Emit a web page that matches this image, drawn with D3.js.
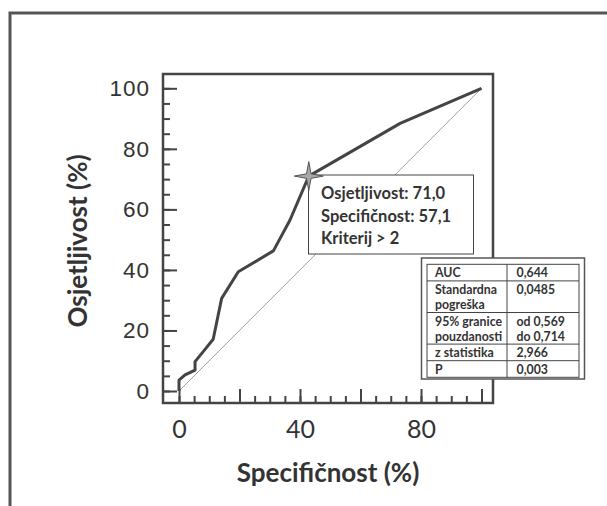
<!DOCTYPE html>
<html>
<head>
<meta charset="utf-8">
<script src="https://cdn.jsdelivr.net/npm/d3@7/dist/d3.min.js"></script>
<style>
  html, body { margin: 0; padding: 0; background: #fff; }
  svg { display: block; }
</style>
</head>
<body>
<svg id="chart" width="607" height="506"></svg>
<script>
// ROC curve: x = 100 - specifičnost, y = osjetljivost (both in %)
const rocX = [0, 0, 2, 5.3, 5.3, 8, 11.3, 14.1, 19.6, 31.2, 36.7, 42.9, 73.1, 100];
const rocY = [0, 3.6, 5.3, 6.9, 9.7, 13, 17.1, 30.6, 39.4, 46.3, 56.5, 71.0, 88.4, 100];

// Optimal cut-off point
const cutSens = 71.0;
const cutSpec = 57.1;
const cutCriterion = "> 2";

// Tick values
const majorTicks = [0, 20, 40, 60, 80, 100];
const minorTicks = d3.range(0, 101, 5);
const xTickLabels = [0, 40, 80];
const yTickLabels = [0, 20, 40, 60, 80, 100];

// Summary statistics table
const statLabels = [["AUC"], ["Standardna", "pogreška"], ["95% granice", "pouzdanosti"], ["z statistika"], ["P"]];
const statValues = [["0,644"], ["0,0485"], ["od 0,569", "do 0,714"], ["2,966"], ["0,003"]];

const svg = d3.select("#chart");
const dark = "#444";
const titleFont = "Lato, 'Open Sans', sans-serif";

// outer frame (runs off the right and bottom of the page)
svg.append("rect")
  .attr("x", 10).attr("y", 13).attr("width", 700).attr("height", 600)
  .attr("fill", "none").attr("stroke", "#555").attr("stroke-width", 3);

const frame = { left: 163, top: 74, right: 493, bottom: 403 };
const x = d3.scaleLinear().domain([0, 100]).range([179, 481.5]);
const y = d3.scaleLinear().domain([0, 100]).range([391, 88.3]);

// chance diagonal
svg.append("line")
  .attr("x1", x(0)).attr("y1", y(0)).attr("x2", x(100)).attr("y2", y(100))
  .attr("stroke", "#a0a0a0").attr("stroke-width", 1);

// ROC curve
const pts = rocX.map((v, i) => [v, rocY[i]]);
svg.append("path")
  .attr("d", d3.line().x(d => x(d[0])).y(d => y(d[1]))(pts))
  .attr("fill", "none").attr("stroke", dark).attr("stroke-width", 3)
  .attr("stroke-linejoin", "round");

// plot frame
svg.append("rect")
  .attr("x", frame.left).attr("y", frame.top)
  .attr("width", frame.right - frame.left).attr("height", frame.bottom - frame.top)
  .attr("fill", "none").attr("stroke", dark).attr("stroke-width", 2.5);

// x axis: inward ticks
const xMinor = svg.append("g").attr("transform", `translate(0,${frame.bottom})`)
  .call(d3.axisBottom(x).tickValues(minorTicks).tickSize(-7).tickFormat(""));
const xMajor = svg.append("g").attr("transform", `translate(0,${frame.bottom})`)
  .call(d3.axisBottom(x).tickValues(majorTicks).tickSize(-14)
    .tickFormat(d => xTickLabels.includes(d) ? d : ""));
[xMinor, xMajor].forEach(g => {
  g.select(".domain").remove();
  g.selectAll(".tick line").attr("stroke", dark).attr("stroke-width", 2);
});
xMajor.selectAll(".tick text")
  .attr("y", 35).attr("dy", null)
  .attr("font-family", titleFont).attr("font-size", 25).attr("fill", "#333");

// y axis: inward ticks
const yMinor = svg.append("g").attr("transform", `translate(${frame.left},0)`)
  .call(d3.axisLeft(y).tickValues(minorTicks).tickSize(-7).tickFormat(""));
const yMajor = svg.append("g").attr("transform", `translate(${frame.left},0)`)
  .call(d3.axisLeft(y).tickValues(majorTicks).tickSize(-14).tickPadding(13)
    .tickFormat(d => yTickLabels.includes(d) ? d : ""));
[yMinor, yMajor].forEach(g => {
  g.select(".domain").remove();
  g.selectAll(".tick line").attr("stroke", dark).attr("stroke-width", 2);
});
yMajor.selectAll(".tick text")
  .attr("font-family", "'Liberation Sans', Arial, sans-serif").attr("font-size", 22.5)
  .attr("letter-spacing", 1).attr("fill", "#333");

// axis titles
svg.append("text")
  .attr("x", 328).attr("y", 482).attr("text-anchor", "middle")
  .attr("font-family", titleFont).attr("font-weight", "bold").attr("font-size", 26).attr("fill", "#333")
  .text("Specifičnost (%)");
svg.append("text")
  .attr("transform", "translate(87,241) rotate(-90)").attr("text-anchor", "middle")
  .attr("font-family", titleFont).attr("font-weight", "bold").attr("font-size", 26).attr("fill", "#333")
  .text("Osjetljivost (%)");

// cut-off annotation box
const ann = svg.append("g");
ann.append("rect")
  .attr("x", 308.5).attr("y", 175).attr("width", 165).attr("height", 79)
  .attr("fill", "#fff").attr("stroke", dark).attr("stroke-width", 1);
const annLines = [
  `Osjetljivost: ${d3.format(".1f")(cutSens).replace(".", ",")}`,
  `Specifičnost: ${d3.format(".1f")(cutSpec).replace(".", ",")}`,
  `Kriterij ${cutCriterion}`
];
ann.selectAll("text").data(annLines).join("text")
  .attr("x", 321).attr("y", (d, i) => 199 + i * 22.5)
  .attr("font-family", titleFont).attr("font-weight", "bold").attr("font-size", 16.5).attr("fill", "#333")
  .text(d => d);

// four-pointed star at the cut-off point
const starPts = [];
for (let k = 0; k < 8; k++) {
  const a = -Math.PI / 2 + k * Math.PI / 4;
  const r = k % 2 === 0 ? 14.5 : 3.2;
  starPts.push([Math.cos(a) * r, Math.sin(a) * r]);
}
svg.append("path")
  .attr("transform", `translate(${x(100 - cutSpec)},${y(cutSens)})`)
  .attr("d", d3.line()(starPts) + "Z")
  .attr("fill", "#a8a8a8").attr("stroke", "#555").attr("stroke-width", 1);

// statistics table
const tbl = svg.append("g");
tbl.append("rect")
  .attr("x", 421.5).attr("y", 258).attr("width", 163).attr("height", 121)
  .attr("fill", "#fff").attr("stroke", "#555").attr("stroke-width", 1.5);
const tLeft = 427, tRight = 579, tMid = 507, tTop = 264.3, lineH = 15;
let rowTops = [tTop];
statLabels.forEach((lab, i) => {
  const n = Math.max(lab.length, statValues[i].length);
  rowTops.push(rowTops[i] + n * lineH + 1.6);
});
const tBottom = rowTops[rowTops.length - 1];
tbl.append("rect")
  .attr("x", tLeft).attr("y", tTop).attr("width", tRight - tLeft).attr("height", tBottom - tTop)
  .attr("fill", "none").attr("stroke", dark).attr("stroke-width", 1);
tbl.append("line").attr("x1", tMid).attr("x2", tMid).attr("y1", tTop).attr("y2", tBottom)
  .attr("stroke", dark).attr("stroke-width", 1);
rowTops.slice(1, -1).forEach(ry => {
  tbl.append("line").attr("x1", tLeft).attr("x2", tRight).attr("y1", ry).attr("y2", ry)
    .attr("stroke", dark).attr("stroke-width", 1);
});
statLabels.forEach((lab, i) => {
  [[lab, 435], [statValues[i], 516.5]].forEach(([lines, tx]) => {
    lines.forEach((s, j) => {
      tbl.append("text")
        .attr("x", tx).attr("y", rowTops[i] + 13 + j * lineH)
        .attr("font-family", titleFont).attr("font-weight", "bold").attr("font-size", 12.3).attr("fill", "#333")
        .text(s);
    });
  });
});
</script>
</body>
</html>
